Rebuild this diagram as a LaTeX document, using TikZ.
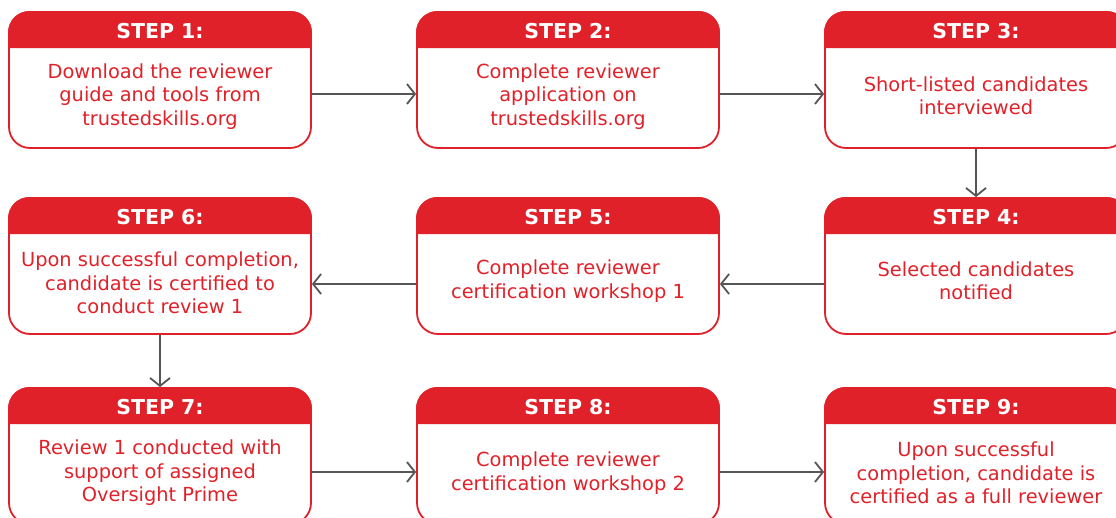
\documentclass[tikz,border=0pt]{standalone}
\usepackage{fontspec}
\setmainfont{DejaVu Sans}
\usetikzlibrary{arrows.meta}
\definecolor{stepred}{RGB}{224,33,41}
\definecolor{arrowgray}{RGB}{85,85,85}
\tikzset{
  stepbox/.style={draw=stepred, line width=1.8pt, rounded corners=21pt,
    minimum width=302pt, minimum height=136pt, inner sep=0pt},
  headfill/.style={fill=stepred},
  steptitle/.style={text=white, font=\fontsize{20.5}{24}\selectfont\bfseries, inner sep=0pt},
  stepbody/.style={text=stepred, font=\fontsize{19.4}{23.5}\selectfont, align=center, inner sep=0pt},
  flow/.style={draw=arrowgray, line width=1.8pt, -{Straight Barb[length=8pt,width=20pt,line width=1.8pt]}}
}
\newcommand{\headerband}[1]{%
  \fill[headfill] ([yshift=-37pt]#1.north west) [rounded corners=21pt] -- (#1.north west) -- (#1.north east) [sharp corners] -- ([yshift=-37pt]#1.north east) -- cycle;}
\begin{document}
\begin{tikzpicture}[x=1pt,y=-1pt]
\useasboundingbox (0,0) rectangle (1116,518);
\clip (0,0) rectangle (1116,518);
% boxes
\node[stepbox] (s1) at (160,80) {};
\node[stepbox] (s2) at (568,80) {};
\node[stepbox] (s3) at (976,80) {};
\node[stepbox] (s6) at (160,266) {};
\node[stepbox] (s5) at (568,266) {};
\node[stepbox] (s4) at (976,266) {};
\node[stepbox] (s7) at (160,456) {};
\node[stepbox] (s8) at (568,456) {};
\node[stepbox] (s9) at (976,456) {};
\foreach \n in {s1,s2,s3,s4,s5,s6,s7,s8,s9} {\headerband{\n}}
% titles
\node[steptitle] (t1) at (160,31) {STEP 1:};
\node[steptitle] (t2) at (568,31) {STEP 2:};
\node[steptitle] (t3) at (976,31) {STEP 3:};
\node[steptitle] (t6) at (160,217) {STEP 6:};
\node[steptitle] (t5) at (568,217) {STEP 5:};
\node[steptitle] (t4) at (976,217) {STEP 4:};
\node[steptitle] (t7) at (160,407) {STEP 7:};
\node[steptitle] (t8) at (568,407) {STEP 8:};
\node[steptitle] (t9) at (976,407) {STEP 9:};
% bodies
\node[stepbody] (b1) at (160,96.5) {Download the reviewer\\guide and tools from\\trustedskills.org};
\node[stepbody] (b2) at (568,96.5) {Complete reviewer\\application on\\trustedskills.org};
\node[stepbody] (b3) at (976,96) {Short-listed candidates\\interviewed};
\node[stepbody] (b6) at (160,283) {Upon successful completion,\\candidate is certified to\\conduct review 1};
\node[stepbody] (b5) at (568,281) {Complete reviewer\\certification workshop 1};
\node[stepbody] (b4) at (976,281) {Selected candidates\\notified};
\node[stepbody] (b7) at (160,473) {Review 1 conducted with\\support of assigned\\Oversight Prime};
\node[stepbody] (b8) at (568,473) {Complete reviewer\\certification workshop 2};
\node[stepbody] (b9) at (976,473) {Upon successful\\completion, candidate is\\certified as a full reviewer};
% connectors
\draw[flow] (s1.east |- 0,94) -- (s2.west |- 0,94);
\draw[flow] (s2.east |- 0,94) -- (s3.west |- 0,94);
\draw[flow] (s3.south) -- (s4.north);
\draw[flow] (s4.west |- 0,284) -- (s5.east |- 0,284);
\draw[flow] (s5.west |- 0,284) -- (s6.east |- 0,284);
\draw[flow] (s6.south) -- (s7.north);
\draw[flow] (s7.east |- 0,472) -- (s8.west |- 0,472);
\draw[flow] (s8.east |- 0,472) -- (s9.west |- 0,472);
\end{tikzpicture}
\end{document}
